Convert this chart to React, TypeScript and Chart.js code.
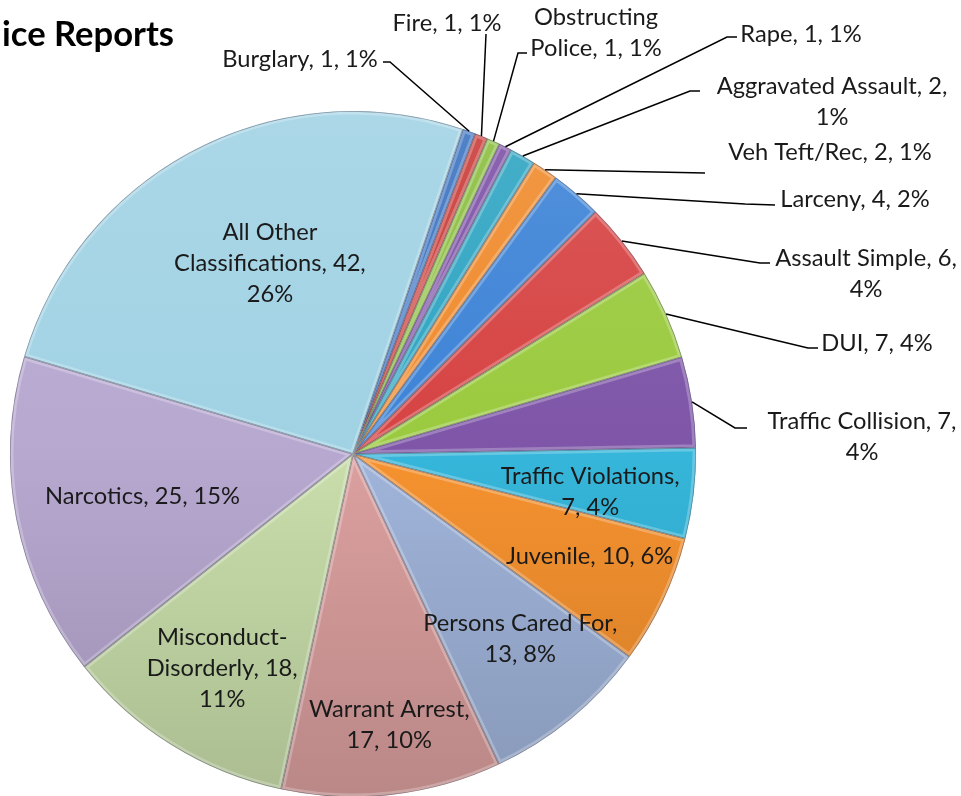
import React, { useEffect, useRef } from 'react';
import { Chart, registerables } from 'chart.js';

Chart.register(...registerables);

// ---------- data ----------
const titleText = 'Police Reports';
const categories = [
  'Burglary', 'Fire', 'Obstructing Police', 'Rape', 'Aggravated Assault', 'Veh Teft/Rec',
  'Larceny', 'Assault Simple', 'DUI', 'Traffic Collision', 'Traffic Violations', 'Juvenile',
  'Persons Cared For', 'Warrant Arrest', 'Misconduct-Disorderly', 'Narcotics', 'All Other Classifications',
];
const counts = [1, 1, 1, 1, 2, 2, 4, 6, 7, 7, 7, 10, 13, 17, 18, 25, 42];
const sliceColors = [
  '#3A72C0', '#C93A37', '#8ABD3E', '#7C50A6', '#2EA4C2', '#EF8A2C',
  '#3C82D6', '#D64242', '#9ACA3E', '#7E55A8', '#35B6DA', '#F6922F',
  '#A0B4DA', '#DBA09F', '#C9DEAB', '#B7A8D0', '#A0D2E4',
];

// ---------- label layout (not data) ----------
// breaks: token index where a new line starts
type OutL = { kind: 'out'; cx: number; cy: number; breaks: number[]; leader: [number, number][] };
type InL = { kind: 'in'; frac: number; dAng: number; breaks: number[] };
const labelLayout: (OutL | InL)[] = [
  { kind: 'out', cx: 300, cy: 58, breaks: [], leader: [[383, 62], [390, 62]] },
  { kind: 'out', cx: 447, cy: 22, breaks: [], leader: [[486, 34]] },
  { kind: 'out', cx: 596, cy: 32, breaks: [1], leader: [[527, 53], [518, 53]] },
  { kind: 'out', cx: 801, cy: 33, breaks: [], leader: [[737, 37], [727, 37]] },
  { kind: 'out', cx: 832, cy: 101, breaks: [3], leader: [[700, 91], [690, 91]] },
  { kind: 'out', cx: 830, cy: 151, breaks: [], leader: [[705, 173]] },
  { kind: 'out', cx: 855, cy: 198, breaks: [], leader: [[775, 205], [745, 204]] },
  { kind: 'out', cx: 866, cy: 273, breaks: [3], leader: [[770, 263], [760, 263]] },
  { kind: 'out', cx: 877, cy: 342, breaks: [], leader: [[818, 348], [808, 348]] },
  { kind: 'out', cx: 862, cy: 436, breaks: [3], leader: [[747, 428], [735, 428]] },
  { kind: 'in', frac: 0.70, dAng: 2.3, breaks: [2] },
  { kind: 'in', frac: 0.75, dAng: -2.2, breaks: [] },
  { kind: 'in', frac: 0.725, dAng: -2.8, breaks: [3] },
  { kind: 'in', frac: 0.795, dAng: -1.1, breaks: [2] },
  { kind: 'in', frac: 0.73, dAng: -0.4, breaks: [1, 3] },
  { kind: 'in', frac: 0.625, dAng: -0.1, breaks: [] },
  { kind: 'in', frac: 0.61, dAng: 4.0, breaks: [2, 4] },
];

const FONT = 'Lato, "Noto Sans", "DejaVu Sans", sans-serif';

function hexToRgb(h: string) {
  const n = parseInt(h.slice(1), 16);
  return [(n >> 16) & 255, (n >> 8) & 255, n & 255];
}
function mix(h: string, t: number[], a: number) {
  const c = hexToRgb(h);
  const r = c.map((v, i) => Math.round(v + (t[i] - v) * a));
  return `rgb(${r[0]},${r[1]},${r[2]})`;
}

function tokenize(s: string) {
  const out: string[] = [];
  s.split(' ').forEach((w) => {
    const parts = w.split(/(?<=-)/);
    parts.forEach((p) => out.push(p));
  });
  return out;
}
function toLines(s: string, breaks: number[]) {
  const toks = tokenize(s);
  const lines: string[] = [];
  let cur = '';
  toks.forEach((t, i) => {
    if (breaks.includes(i) && cur) {
      lines.push(cur);
      cur = '';
    }
    if (!cur) cur = t;
    else cur += cur.endsWith('-') ? t : ' ' + t;
  });
  if (cur) lines.push(cur);
  return lines;
}

export default function App() {
  const ref = useRef<HTMLCanvasElement>(null);
  useEffect(() => {
    const canvas = ref.current!;
    const total = counts.reduce((a, b) => a + b, 0);
    const pct = counts.map((v) => Math.round((v / total) * 100));
    const texts = categories.map((c, i) => `${c}, ${counts[i]}, ${pct[i]}%`);

    const mctx = canvas.getContext('2d')!;
    mctx.font = `100px ${FONT}`;
    const labelSize = (100 * 195) / mctx.measureText('Narcotics, 25, 15%').width;
    mctx.font = `bold 100px ${FONT}`;
    const titleSize = (100 * 172) / mctx.measureText('ice Reports').width;
    const lineH = 31;

    const piePlugin = {
      id: 'pieDecor',
      afterDatasetsDraw(chart: any) {
        const ctx: CanvasRenderingContext2D = chart.ctx;
        const meta = chart.getDatasetMeta(0);
        // bevel-like edges
        meta.data.forEach((arc: any) => {
          const p = arc.getProps(['x', 'y', 'startAngle', 'endAngle', 'outerRadius'], true);
          ctx.save();
          ctx.beginPath();
          ctx.moveTo(p.x, p.y);
          ctx.arc(p.x, p.y, p.outerRadius, p.startAngle, p.endAngle);
          ctx.closePath();
          ctx.clip();
          ctx.lineJoin = 'round';
          ctx.strokeStyle = 'rgba(255,255,255,0.25)';
          ctx.lineWidth = 7;
          ctx.stroke();
          ctx.strokeStyle = 'rgba(40,40,60,0.4)';
          ctx.lineWidth = 1.6;
          ctx.stroke();
          ctx.restore();
        });

        // labels
        ctx.save();
        ctx.font = `${labelSize}px ${FONT}`;
        ctx.fillStyle = '#1a1a1a';
        ctx.textAlign = 'center';
        ctx.textBaseline = 'middle';
        meta.data.forEach((arc: any, i: number) => {
          const p = arc.getProps(['x', 'y', 'startAngle', 'endAngle', 'outerRadius'], true);
          const mid = (p.startAngle + p.endAngle) / 2;
          const L = labelLayout[i];
          const lines = toLines(texts[i], L.breaks);
          let cx: number, cy: number;
          if (L.kind === 'in') {
            const a = mid + (L.dAng * Math.PI) / 180;
            cx = p.x + Math.cos(a) * p.outerRadius * L.frac;
            cy = p.y + Math.sin(a) * p.outerRadius * L.frac;
          } else {
            cx = L.cx;
            cy = L.cy;
            const sx = p.x + Math.cos(mid) * p.outerRadius;
            const sy = p.y + Math.sin(mid) * p.outerRadius;
            ctx.beginPath();
            ctx.moveTo(sx, sy);
            for (let k = L.leader.length - 1; k >= 0; k--) ctx.lineTo(L.leader[k][0], L.leader[k][1]);
            ctx.strokeStyle = '#000';
            ctx.lineWidth = 1.5;
            ctx.stroke();
          }
          const y0 = cy - ((lines.length - 1) * lineH) / 2;
          lines.forEach((ln, k) => ctx.fillText(ln, cx, y0 + k * lineH + 1));
        });
        ctx.restore();

        // title (partially outside the canvas on the left)
        ctx.save();
        ctx.beginPath();
        ctx.rect(2, 0, 400, 80);
        ctx.clip();
        ctx.font = `bold ${titleSize}px ${FONT}`;
        ctx.fillStyle = '#000';
        ctx.textBaseline = 'alphabetic';
        ctx.textAlign = 'left';
        const pre = ctx.measureText('Pol').width;
        ctx.fillText(titleText, 2 - pre, 46);
        ctx.restore();
      },
    };

    const chart = new Chart(canvas, {
      type: 'pie',
      data: {
        labels: categories,
        datasets: [
          {
            data: counts,
            borderWidth: 0,
            backgroundColor: (c: any) => {
              const base = sliceColors[c.dataIndex];
              const area = c.chart.chartArea;
              if (!area) return base;
              const g = c.chart.ctx.createLinearGradient(0, area.top, 0, area.bottom);
              g.addColorStop(0, mix(base, [255, 255, 255], 0.12));
              g.addColorStop(0.5, base);
              g.addColorStop(1, mix(base, [0, 0, 0], 0.15));
              return g;
            },
          },
        ],
      },
      options: {
        responsive: false,
        animation: false,
        rotation: 18.7,
        radius: 343,
        layout: { padding: { left: 10, right: 265, top: 112, bottom: 0 } },
        plugins: { legend: { display: false }, tooltip: { enabled: false }, title: { display: false } },
      },
      plugins: [piePlugin],
    } as any);
    return () => chart.destroy();
  }, []);

  return (
    <div style={{ position: 'absolute', left: 0, top: 0, width: 961, height: 796, background: '#fff' }}>
      <canvas ref={ref} width={961} height={796} style={{ display: 'block' }} />
    </div>
  );
}
